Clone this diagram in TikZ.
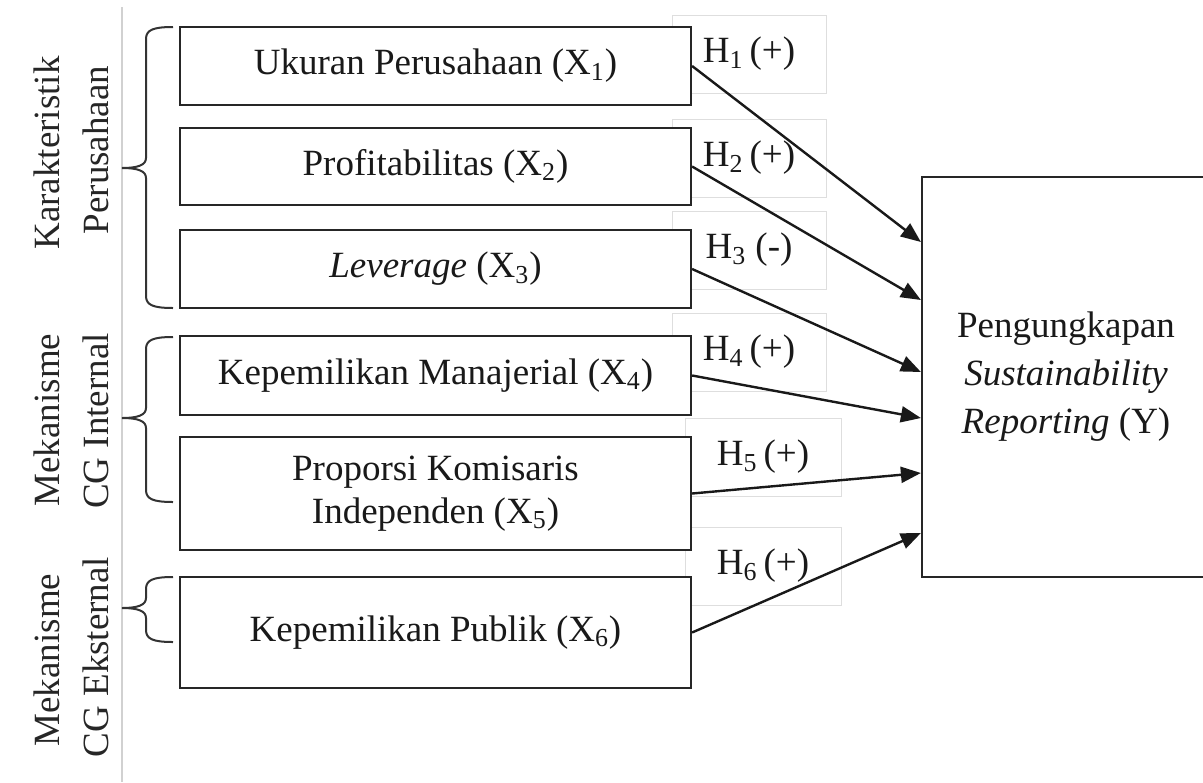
\documentclass[tikz,border=0pt]{standalone}
\usepackage{fontspec}
\setmainfont{Liberation Serif}
\usetikzlibrary{arrows.meta}
\tikzset{
  varbox/.style={draw=black!85, line width=1.1pt, fill=white, minimum width=255.5pt,
    inner sep=0pt, align=center, text=black!90, font=\fontsize{18.5}{22}\selectfont},
  hypbox/.style={draw=black!13, line width=0.5pt, minimum width=77pt, minimum height=39pt,
    inner sep=0pt, text=black!90, font=\fontsize{18.5}{22}\selectfont},
  grplabel/.style={rotate=90, inner sep=0pt, text=black!85, font=\fontsize{18.5}{22}\selectfont},
  grpbrace/.style={draw=black!80, line width=1pt},
  effect/.style={-{Triangle[length=10pt,width=8pt]}, line width=1.2pt, draw=black!90},
}
\begin{document}
\begin{tikzpicture}[x=0.5pt,y=-0.5pt]
	\useasboundingbox (0,0) rectangle (1203,782);
	\draw[black!18, line width=0.6pt] (122,7) -- (122,782);
	% hypothesis labels (behind the boxes)
	\node[hypbox](h1) at (749,54){H\textsubscript{1}\,(+)};
	\node[hypbox](h2) at (749,158){H\textsubscript{2}\,(+)};
	\node[hypbox](h3) at (749,250){H\textsubscript{3} (-)};
	\node[hypbox](h4) at (749,352){H\textsubscript{4}\,(+)};
	\node[hypbox, minimum width=78pt](h5) at (763,457){H\textsubscript{5}\,(+)};
	\node[hypbox, minimum width=78pt](h6) at (763,566){H\textsubscript{6}\,(+)};
	% variables
	\node[varbox, minimum height=39pt](x1) at (435.5,66){Ukuran Perusahaan (X\textsubscript{1})};
	\node[varbox, minimum height=38.5pt](x2) at (435.5,166.5){Profitabilitas (X\textsubscript{2})};
	\node[varbox, minimum height=39pt](x3) at (435.5,269){\textit{Leverage} (X\textsubscript{3})};
	\node[varbox, minimum height=39.5pt](x4) at (435.5,375.5){Kepemilikan Manajerial (X\textsubscript{4})};
	\node[varbox, minimum height=56.5pt](x5) at (435.5,493.5){\raisebox{3pt}{\shortstack{Proporsi Komisaris\\[2pt]Independen (X\textsubscript{5})}}};
	\node[varbox, minimum height=55.5pt](x6) at (435.5,632.5){\raisebox{3pt}{Kepemilikan Publik (X\textsubscript{6})}};
	\node[varbox, minimum width=144pt, minimum height=200pt,
		font=\fontsize{18.5}{24}\selectfont](y) at (1066,377){Pengungkapan\\\textit{Sustainability}\\\textit{Reporting} (Y)};
	% groups
	\node[grplabel](k1) at (47,153){Karakteristik};
	\node[grplabel](k2) at (96,150){Perusahaan};
	\node[grplabel](m1) at (47,420){Mekanisme};
	\node[grplabel](m2) at (96,421){CG Internal};
	\node[grplabel](e1) at (47,660){Mekanisme};
	\node[grplabel](e2) at (96,657){CG Eksternal};
	\foreach \t/\m/\b in {27/168/308,337/418/502,577/608/642}
		\draw[grpbrace] (173,\t) .. controls (153,\t) and (146,\t+3) .. (146,\t+12) -- (146,\m-10)
			.. controls (146,\m-3) and (138,\m) .. (122,\m) .. controls (138,\m) and (146,\m+3) .. (146,\m+10)
			-- (146,\b-12) .. controls (146,\b-3) and (153,\b) .. (173,\b);
	% effects
	\draw[effect] (x1.east) -- (y.west |- 0,242);
	\draw[effect] (x2.east) -- (y.west |- 0,300);
	\draw[effect] (x3.east) -- (y.west |- 0,372);
	\draw[effect] (x4.east) -- (y.west |- 0,418);
	\draw[effect] (x5.east) -- (y.west |- 0,473);
	\draw[effect] (x6.east) -- (y.west |- 0,533);
\end{tikzpicture}
\end{document}
